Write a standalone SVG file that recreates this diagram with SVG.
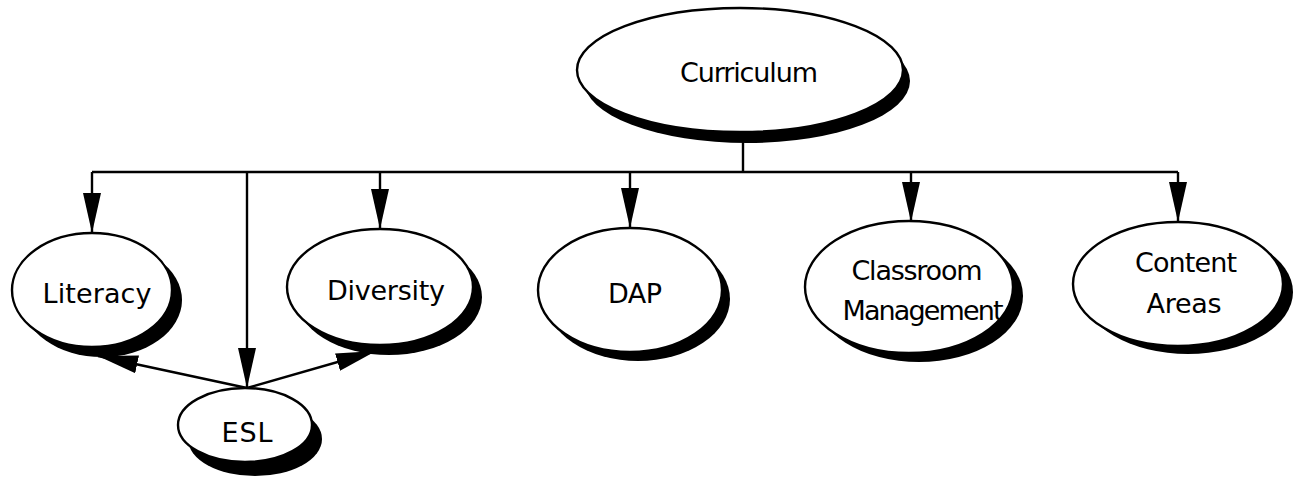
<svg xmlns="http://www.w3.org/2000/svg" width="1293" height="481" viewBox="0 0 1293 481">
  <style>
    .shadow { fill: #000; }
    .node { fill: #fff; stroke: #000; stroke-width: 2.4; }
    .label { font-family: "DejaVu Sans", "Liberation Sans", sans-serif; font-size: 27px; fill: #000; text-anchor: middle; }
    .link { fill: none; stroke: #000; stroke-width: 2.4; }
    .arrow { marker-end: url(#head); }
  </style>
  <defs>
    <marker id="head" markerUnits="userSpaceOnUse" markerWidth="40" markerHeight="18" refX="40" refY="9" orient="auto" viewBox="0 0 40 18">
      <path d="M0,0 L40,9 L0,18 Z" fill="#000"/>
    </marker>
  </defs>

  <rect width="1293" height="481" fill="#fff"/>

  <!-- connectors -->
  <g id="connectors">
    <path class="link" d="M743,132 V172"/>
    <path class="link" d="M92,172 H1178"/>
    <path class="link arrow" d="M92,172 V233"/>
    <path class="link arrow" d="M247,172 V388"/>
    <path class="link arrow" d="M380,172 V229"/>
    <path class="link arrow" d="M630,172 V228"/>
    <path class="link arrow" d="M911,172 V222"/>
    <path class="link arrow" d="M1178,172 V222"/>
    <path class="link arrow" d="M247,388 L98,356"/>
    <path class="link arrow" d="M247,388 L376,351"/>
  </g>

  <g id="curriculum">
    <ellipse class="shadow" cx="747" cy="81" rx="163" ry="62"/>
    <ellipse class="node" cx="740" cy="70" rx="163" ry="62"/>
    <text class="label" x="749" y="82" textLength="138">Curriculum</text>
  </g>

  <g id="literacy">
    <ellipse class="shadow" cx="102" cy="300" rx="80" ry="57"/>
    <ellipse class="node" cx="92" cy="290" rx="80" ry="57"/>
    <text class="label" x="97" y="303" textLength="109">Literacy</text>
  </g>

  <g id="diversity">
    <ellipse class="shadow" cx="389" cy="297" rx="93" ry="58"/>
    <ellipse class="node" cx="380" cy="287" rx="93" ry="58"/>
    <text class="label" x="386" y="300" textLength="118">Diversity</text>
  </g>

  <g id="esl">
    <ellipse class="shadow" cx="255" cy="439" rx="67" ry="37"/>
    <ellipse class="node" cx="245" cy="425" rx="67" ry="37"/>
    <text class="label" x="247" y="442" textLength="51">ESL</text>
  </g>

  <g id="dap">
    <ellipse class="shadow" cx="638" cy="299" rx="92" ry="62"/>
    <ellipse class="node" cx="630" cy="290" rx="92" ry="62"/>
    <text class="label" x="635" y="303" textLength="54">DAP</text>
  </g>

  <g id="classroom-management">
    <ellipse class="shadow" cx="919" cy="296" rx="104" ry="66"/>
    <ellipse class="node" cx="909" cy="287" rx="104" ry="66"/>
    <text class="label" x="917" y="280" textLength="131">Classroom</text>
    <text class="label" x="923" y="320" textLength="161">Management</text>
  </g>

  <g id="content-areas">
    <ellipse class="shadow" cx="1188" cy="292" rx="105" ry="62"/>
    <ellipse class="node" cx="1178" cy="284" rx="105" ry="62"/>
    <text class="label" x="1186" y="272" textLength="102">Content</text>
    <text class="label" x="1184" y="313" textLength="75">Areas</text>
  </g>
</svg>
